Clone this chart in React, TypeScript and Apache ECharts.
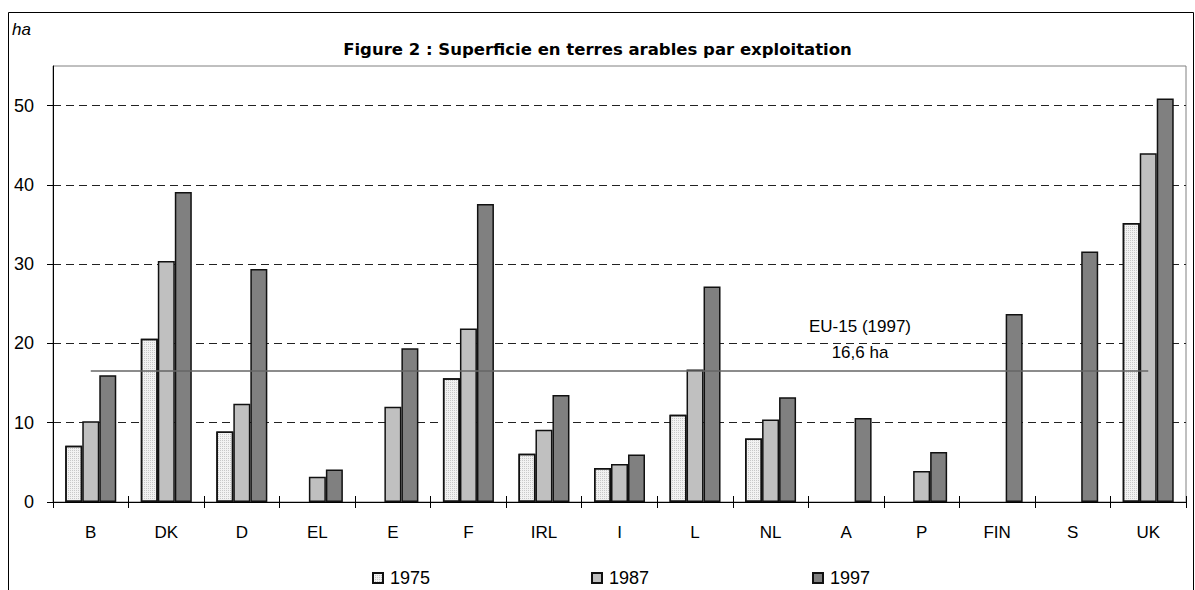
import React, { useEffect, useRef } from "react";
import * as echarts from "echarts";

const categories = ["B", "DK", "D", "EL", "E", "F", "IRL", "I", "L", "NL", "A", "P", "FIN", "S", "UK"];
const values1975 = [7.1, 20.6, 8.9, null, null, 15.6, 6.1, 4.3, 11.0, 8.0, null, null, null, null, 35.2];
const values1987 = [10.2, 30.4, 12.4, 3.2, 12.0, 21.9, 9.1, 4.8, 16.7, 10.4, null, 3.9, null, null, 44.0];
const values1997 = [16.0, 39.1, 29.4, 4.1, 19.4, 37.6, 13.5, 6.0, 27.2, 13.2, 10.6, 6.3, 23.7, 31.6, 50.9];
const yTicks = [0, 10, 20, 30, 40, 50];
const euAverage = 16.6;
const titleText = "Figure 2 : Superficie en terres arables par exploitation";
const unitText = "ha";
const euLabel1 = "EU-15 (1997)";
const euLabel2 = "16,6 ha";

const FONT = "'Liberation Sans', Arial, sans-serif";

export default function App() {
  const ref = useRef<HTMLDivElement>(null);
  useEffect(() => {
    if (!ref.current) return;
    const chart = echarts.init(ref.current, null, { renderer: "svg" });
    const barBase = {
      type: "bar" as const,
      barWidth: 17,
      barGap: "0%",
      itemStyle: { borderColor: "#111", borderWidth: 1.5 },
    };
    chart.setOption({
      animation: false,
      textStyle: { fontFamily: FONT, color: "#000" },
      title: {
        text: titleText,
        left: "center",
        top: 36,
        textStyle: { fontFamily: "'DejaVu Sans', sans-serif", fontSize: 16.5, fontWeight: "bold", color: "#000" },
      },
      grid: {
        left: 53,
        top: 66,
        right: 9,
        bottom: 88,
        show: true,
        borderColor: "#808080",
        borderWidth: 1,
      },
      legend: [
        { data: ["1975"], left: 372, top: 569 },
        { data: ["1987"], left: 591, top: 569 },
        { data: ["1997"], left: 812, top: 569 },
      ].map((l) => ({
        ...l,
        padding: 0,
        itemWidth: 10,
        itemHeight: 10,
        icon: "rect",
        itemGap: 4,
        textStyle: { fontFamily: FONT, fontSize: 18, color: "#000", padding: [0, 0, 0, 2] },
      })),
      xAxis: [
        {
          type: "category",
          data: categories,
          axisLine: { lineStyle: { color: "#000", width: 1 } },
          axisTick: { show: true, alignWithLabel: false, length: 6, lineStyle: { color: "#000" } },
          axisLabel: { fontFamily: FONT, fontSize: 17, color: "#000", margin: 22 },
          splitLine: { show: false },
        },
        {
          type: "category",
          data: categories,
          position: "bottom",
          axisLine: { show: false },
          axisTick: { show: true, inside: true, length: 6, lineStyle: { color: "#000" } },
          axisLabel: { show: false },
        },
      ],
      yAxis: {
        type: "value",
        min: 0,
        max: 55,
        interval: 10,
        axisLine: { show: true, lineStyle: { color: "#000", width: 1 } },
        axisTick: { show: true, length: 6, lineStyle: { color: "#000" }, customValues: yTicks },
        axisLabel: {
          fontFamily: FONT,
          fontSize: 18,
          color: "#000",
          margin: 19,
          customValues: yTicks,
        },
        splitLine: {
          show: true,
          lineStyle: { color: "#222", type: [8, 5], width: 1 },
        },
      },
      series: [
        {
          ...barBase,
          name: "1975",
          data: values1975,
          itemStyle: {
            ...barBase.itemStyle,
            color: "#f2f2f2",
            decal: {
              symbol: "rect",
              symbolSize: 1,
              color: "rgba(120,120,120,0.35)",
              dashArrayX: [1, 1],
              dashArrayY: [1, 1],
              rotation: 0,
            },
          },
        },
        {
          ...barBase,
          name: "1987",
          data: values1987,
          itemStyle: { ...barBase.itemStyle, color: "#c0c0c0" },
          markLine: {
            silent: true,
            symbol: "none",
            label: { show: false },
            lineStyle: { color: "#666", width: 1.5, type: "solid" },
            data: [
              [
                { coord: [categories[0], euAverage] },
                { coord: [categories[categories.length - 1], euAverage] },
              ],
            ],
          },
        },
        {
          ...barBase,
          name: "1997",
          data: values1997,
          itemStyle: { ...barBase.itemStyle, color: "#808080" },
        },
      ],
      graphic: [
        {
          type: "rect",
          shape: { x: 8.5, y: 12.5, width: 1185, height: 620 },
          style: { fill: "none", stroke: "#000", lineWidth: 1 },
          silent: true,
        },
        {
          type: "text",
          left: 12,
          top: 21,
          style: { text: unitText, font: `italic 17px ${FONT}`, fill: "#000" },
        },
        {
          type: "text",
          x: 860,
          y: 326,
          style: {
            text: euLabel1,
            font: `17px ${FONT}`,
            fill: "#000",
            align: "center",
            verticalAlign: "middle",
          },
        },
        {
          type: "text",
          x: 860,
          y: 352,
          style: {
            text: euLabel2,
            font: `17px ${FONT}`,
            fill: "#000",
            align: "center",
            verticalAlign: "middle",
          },
        },
      ],
    });
    return () => chart.dispose();
  }, []);
  return (
    <div
      ref={ref}
      style={{ position: "absolute", left: 0, top: 0, width: 1195, height: 590, background: "#fff" }}
    />
  );
}
